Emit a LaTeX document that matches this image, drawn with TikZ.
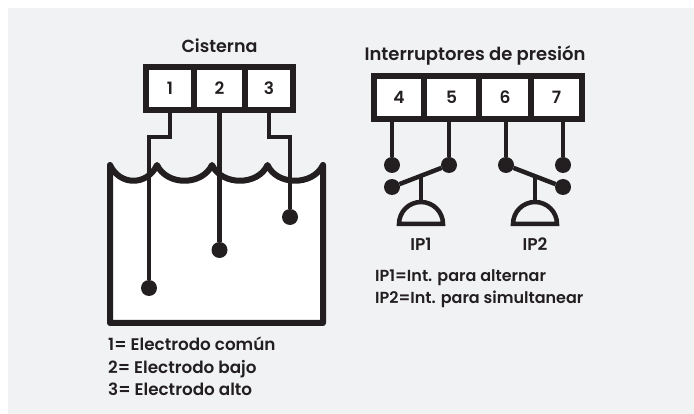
\documentclass[tikz,border=0pt]{standalone}
\usepackage{fontspec}
\setmainfont{Poppins}[UprightFont=*-Medium,BoldFont=*-SemiBold]
\definecolor{tinta}{HTML}{231F20}
\definecolor{fondo}{HTML}{F1F2F4}
\tikzset{
    celda/.style={draw=tinta, fill=white, line width=6pt, minimum height=43pt, outer sep=0pt, inner sep=0pt, text=tinta, font=\fontsize{17}{17}\selectfont\bfseries},
    cable/.style={draw=tinta, line width=4.5pt},
    punto/.style={circle, fill=tinta, minimum size=16pt, inner sep=0pt, outer sep=0pt},
    rotulo/.style={text=tinta, inner sep=0pt, anchor=base, font=\fontsize{17}{17}\selectfont\bfseries},
    nota/.style={rotulo, anchor=base west},
}
\begin{document}
\begin{tikzpicture}[x=1pt,y=-1pt]
    \useasboundingbox (0,0) rectangle (694,414);
    \fill[white] (0,0) rectangle (694,414);
    \fill[fondo] (8,8) rectangle (694,414);
    % cisterna
    \filldraw[fill=white, draw=tinta, line width=6pt, line join=round, line cap=round]
        (110,165) -- (110,323) -- (323,323) -- (323,165)
        .. controls (313,186) and (277,186) .. (267.5,165)
        .. controls (258,186) and (222,186) .. (212,165)
        .. controls (202,186) and (167,186) .. (157,165)
        .. controls (147,186) and (120,186) .. (110,165);
    \node[celda, minimum width=48pt] (c1) at (170,88.5) {1};
    \node[celda, minimum width=51pt] (c2) at (219.5,88.5) {2};
    \node[celda, minimum width=48pt] (c3) at (269,88.5) {3};
    \node[punto] (e1) at (149,288) {};
    \node[punto] (e2) at (219.5,250) {};
    \node[punto] (e3) at (290,217) {};
    \draw[cable] (c1.south) -- ++(0,27) -| (e1);
    \draw[cable] (c2.south) -- (e2);
    \draw[cable] (c3.south) -- ++(0,27) -| (e3);
    \node[rotulo, font=\fontsize{17.5}{17.5}\selectfont\bfseries] (tc) at (219.5,53) {Cisterna};
    \node[nota, font=\fontsize{16.8}{17}\selectfont\bfseries] (n1) at (108,351) {1= Electrodo común};
    \node[nota, font=\fontsize{16.8}{17}\selectfont\bfseries] (n2) at (108,373) {2= Electrodo bajo};
    \node[nota, font=\fontsize{16.8}{17}\selectfont\bfseries] (n3) at (108,395) {3= Electrodo alto};
    % interruptores
    \node[celda, minimum width=50pt] (c4) at (399,97.5) {4};
    \node[celda, minimum width=55pt] (c5) at (451.5,97.5) {5};
    \node[celda, minimum width=52pt] (c6) at (505,97.5) {6};
    \node[celda, minimum width=51pt] (c7) at (556.5,97.5) {7};
    \node[punto] (p4) at (392,165) {};
    \node[punto] (p5) at (449,165) {};
    \node[punto] (p6) at (506,165) {};
    \node[punto] (p7) at (563,165) {};
    \node[punto] (q1) at (392,187) {};
    \node[punto] (q2) at (563,187) {};
    \draw[cable] (c4.south -| p4) -- (p4);
    \draw[cable] (c5.south -| p5) -- (p5);
    \draw[cable] (c6.south -| p6) -- (p6);
    \draw[cable] (c7.south -| p7) -- (p7);
    \draw[cable] (q1) -- (p5);
    \draw[cable] (p6) -- (q2);
    \coordinate (b1) at (421,176);
    \coordinate (b2) at (535,176);
    \draw[cable] (b1) -- ++(0,28);
    \draw[cable] (b2) -- ++(0,28);
    \draw[cable, line join=miter] (399,224) arc (180:360:22) -- cycle;
    \draw[cable, line join=miter] (513,224) arc (180:360:22) -- cycle;
    \node[rotulo] (ip1) at (421,251) {IP1};
    \node[rotulo] (ip2) at (535,251) {IP2};
    \node[rotulo, font=\fontsize{18}{18}\selectfont\bfseries] (ti) at (475,61) {Interruptores de presión};
    \node[nota, font=\fontsize{16}{16}\selectfont\bfseries] (n4) at (375,282) {IP1=Int. para alternar};
    \node[nota, font=\fontsize{16}{16}\selectfont\bfseries] (n5) at (375,304) {IP2=Int. para simultanear};
\end{tikzpicture}
\end{document}
